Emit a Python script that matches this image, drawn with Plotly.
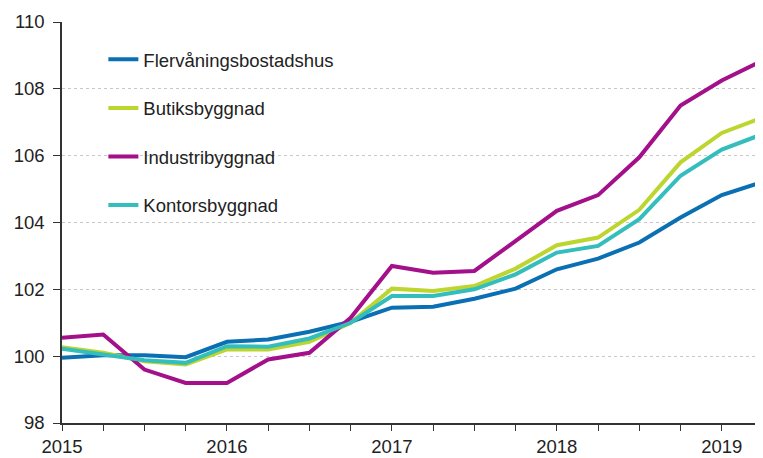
import plotly.graph_objects as go

quarters = ["2015Q1", "2015Q2", "2015Q3", "2015Q4", "2016Q1", "2016Q2", "2016Q3", "2016Q4",
            "2017Q1", "2017Q2", "2017Q3", "2017Q4", "2018Q1", "2018Q2", "2018Q3", "2018Q4",
            "2019Q1", "2019Q2"]
flervanings = [99.95, 100.03, 100.03, 99.97, 100.43, 100.5, 100.73, 101.03, 101.45, 101.48,
               101.72, 102.02, 102.6, 102.92, 103.4, 104.15, 104.82, 105.22]
butiks = [100.27, 100.1, 99.85, 99.75, 100.2, 100.2, 100.43, 101.0, 102.02, 101.95,
          102.1, 102.62, 103.32, 103.55, 104.38, 105.8, 106.68, 107.15]
industri = [100.55, 100.65, 99.6, 99.2, 99.2, 99.9, 100.1, 101.15, 102.7, 102.5,
            102.55, 103.45, 104.35, 104.82, 105.95, 107.5, 108.25, 108.85]
kontors = [100.22, 100.05, 99.88, 99.8, 100.3, 100.28, 100.53, 101.0, 101.8, 101.8,
           102.0, 102.45, 103.1, 103.3, 104.1, 105.4, 106.18, 106.65]

names = ["Flervåningsbostadshus", "Butiksbyggnad", "Industribyggnad", "Kontorsbyggnad"]
series = [flervanings, butiks, industri, kontors]
colors = ["#0a70b3", "#bdd52f", "#a3108a", "#33bdbd"]

x = list(range(len(quarters)))
ticktext = [q[:4] if q.endswith("Q1") else "" for q in quarters]

fig = go.Figure()
for i, (nm, ys, c) in enumerate(zip(names, series, colors)):
    fig.add_trace(go.Scatter(x=x, y=ys, name=nm, mode="lines",
                             line=dict(color=c, width=4),
                             legendgroup=f"g{i}"))

font = "Liberation Sans, Arial, sans-serif"
# page body has an 8px margin, so the figure is drawn 8px smaller and offset
fig.update_layout(
    width=755, height=450,
    margin=dict(l=54, r=0, t=14, b=35, autoexpand=False),
    paper_bgcolor="white", plot_bgcolor="white",
    font=dict(family=font, size=18.5, color="#222222"),
    showlegend=True,
    legend=dict(x=0.059, y=0.953, xanchor="left", yanchor="top",
                bgcolor="rgba(0,0,0,0)", tracegroupgap=21.5,
                font=dict(size=18.5, color="#222222")),
    xaxis=dict(range=[0, 17], tickvals=x, ticktext=ticktext,
               showgrid=False, zeroline=False,
               showline=True, linecolor="#333333", linewidth=1.5,
               ticks="outside", ticklen=6, tickcolor="#333333",
               tickfont=dict(size=18.5)),
    yaxis=dict(range=[98, 110], tickvals=[98, 100, 102, 104, 106, 108, 110],
               showgrid=True, gridcolor="#c8c8c8", griddash="dot", gridwidth=1,
               zeroline=False,
               showline=True, linecolor="#333333", linewidth=1.5,
               ticks="outside", ticklen=7, tickcolor="#333333",
               ticklabelstandoff=5,
               tickfont=dict(size=18.5)),
)

fig.write_html("out.html")
